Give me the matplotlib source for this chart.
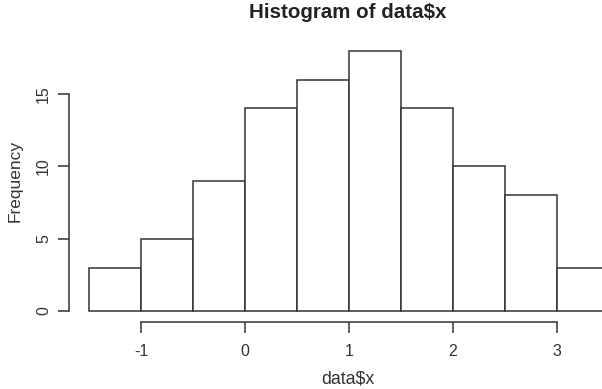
import numpy as np
import matplotlib.pyplot as plt

# bin edges and counts
bin_edges = [-1.5, -1.0, -0.5, 0.0, 0.5, 1.0, 1.5, 2.0, 2.5, 3.0, 3.5]
counts = [3, 5, 9, 14, 16, 18, 14, 10, 8, 3]
x_ticks = [-1, 0, 1, 2, 3]
y_ticks = [0, 5, 10, 15]

plt.rcParams['font.family'] = ['Liberation Sans', 'DejaVu Sans']
plt.rcParams['axes.unicode_minus'] = False

W, H = 602, 389
fig = plt.figure(figsize=(W / 100, H / 100), dpi=100)
ax = fig.add_axes([0, 0, 1, 1])
ax.patch.set_alpha(0)

# pixel -> data mapping (x=-1 at px 141, x=3 at px 557; y=0 at px 311, y=15 at px 94)
xs = (557 - 141) / 4.0
ys = (311 - 94) / 15.0
ax.set_xlim(-1 - 141 / xs, -1 + (W - 141) / xs)
ax.set_ylim(-(H - 311) / ys, 311 / ys)

line_col = '#333333'
edges = np.array(bin_edges)
ax.bar(edges[:-1], counts, width=np.diff(edges), align='edge',
       facecolor='white', edgecolor=line_col, linewidth=1.1)

for s in ['top', 'right']:
    ax.spines[s].set_visible(False)
ax.spines['left'].set_position(('data', -1 + (69 - 141) / xs))
ax.spines['left'].set_bounds(0, 15)
ax.spines['bottom'].set_position(('data', -(322 - 311) / ys))
ax.spines['bottom'].set_bounds(-1, 3)
for s in ['left', 'bottom']:
    ax.spines[s].set_color(line_col)
    ax.spines[s].set_linewidth(1.1)

ax.set_xticks(x_ticks)
ax.set_xticklabels([str(v) for v in x_ticks])
ax.set_yticks(y_ticks)
ax.set_yticklabels([str(v) for v in y_ticks], rotation=90, va='center')
ax.tick_params(axis='both', length=8, width=1.1, color=line_col,
               labelsize=11.5, labelcolor='#333333')
ax.tick_params(axis='x', pad=8)
ax.tick_params(axis='y', pad=5)

fig.text(348 / W, 1 - 13 / H, 'Histogram of data$x', ha='center', va='center',
         fontsize=14.8, fontweight='bold', color='#222222')
fig.text(348 / W, 1 - 379 / H, 'data$x', ha='center', va='center',
         fontsize=12.8, color='#333333')
fig.text(15 / W, 1 - 181 / H, 'Frequency', ha='center', va='center',
         rotation=90, fontsize=12.5, color='#333333')

fig.savefig('out.png', dpi=100)
